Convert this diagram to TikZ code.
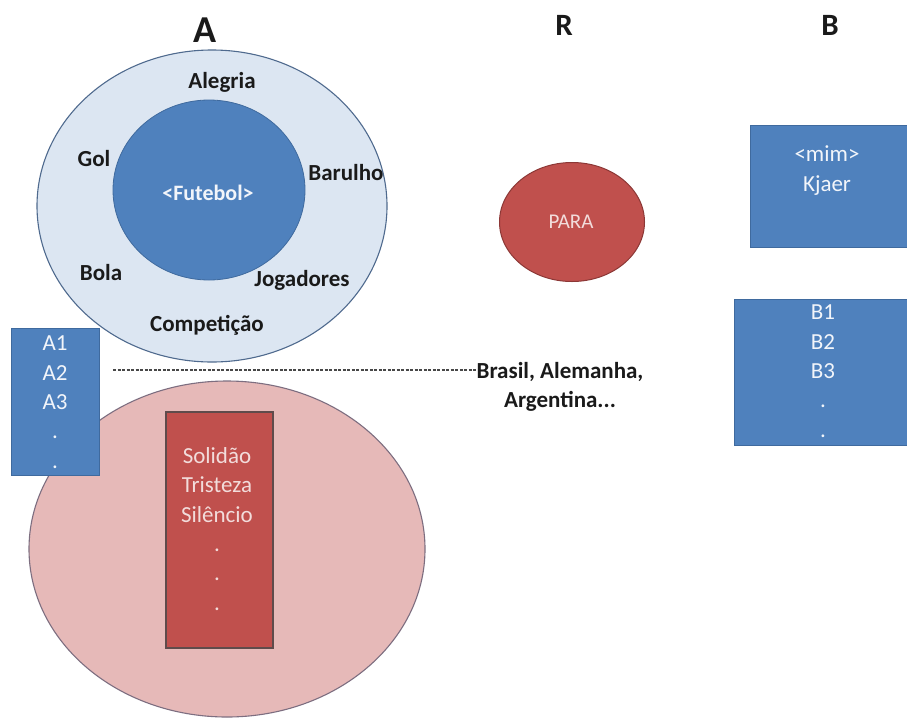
\documentclass[tikz,border=0pt]{standalone}
\usepackage{fontspec}
\setmainfont{Carlito}
\usetikzlibrary{shapes.geometric}
\definecolor{outerfill}{HTML}{DCE6F2}
\definecolor{outerline}{HTML}{4F6A8E}
\definecolor{bluefill}{HTML}{4F81BD}
\definecolor{blueline}{HTML}{3F6A9E}
\definecolor{pinkfill}{HTML}{E6B9B8}
\definecolor{pinkline}{HTML}{7D6E80}
\definecolor{redfill}{HTML}{C0504D}
\definecolor{redline}{HTML}{5F4B4B}
\definecolor{paraline}{HTML}{8C3836}
\definecolor{labelc}{HTML}{1A1A1A}
\definecolor{whitec}{HTML}{F2F5FA}
\definecolor{paratext}{HTML}{F2DCDB}
\begin{document}
\begin{tikzpicture}[x=1pt,y=-1pt,
  lbl/.style={font=\bfseries\fontsize{23}{28.5}\selectfont, text=labelc, inner sep=0pt},
  title/.style={font=\bfseries\fontsize{31}{36}\selectfont, text=labelc, inner sep=0pt},
  wlbl/.style={font=\fontsize{23}{29.3}\selectfont, text=whitec, align=center, inner sep=0pt, anchor=base},
  bluebox/.style={draw=blueline, fill=bluefill, line width=1pt, rectangle, inner sep=0pt},
  oval/.style={ellipse, inner sep=0pt}
]
\clip (0,0) rectangle (907,718);
\fill[white] (0,0) rectangle (907,718);

% titles
\node[title, font=\bfseries\fontsize{38}{40}\selectfont] (tA) at (205,30) {A};
\node[title] (tR) at (564,25) {R};
\node[title] (tB) at (830,25) {B};

% A: outer and inner circles
\node[oval, draw=outerline, fill=outerfill, line width=1.1pt, minimum width=350pt, minimum height=312pt] (outer) at (212,206) {};
\node[oval, draw=blueline, fill=bluefill, line width=0.8pt, minimum width=192pt, minimum height=180pt] (inner) at (209,190) {};
\node[font=\bfseries\fontsize{22}{26}\selectfont, text=whitec, inner sep=0pt] (fut) at (208,193) {<Futebol>};
\node[lbl] (alegria) at (222,82) {Alegria};
\node[lbl] (gol) at (94,159) {Gol};
\node[lbl] (barulho) at (346,173) {Barulho};
\node[lbl] (bola) at (101,273) {Bola};
\node[lbl] (jog) at (302,280) {Jogadores};
\node[lbl] (comp) at (207,325) {Competição};

% lower pink ellipse and red rectangle
\node[oval, draw=pinkline, fill=pinkfill, line width=1.1pt, minimum width=396pt, minimum height=336pt] (pink) at (227,549) {};
\node[rectangle, draw=redline, fill=redfill, line width=1.1pt, minimum width=107pt, minimum height=236pt, inner sep=0pt] (redbox) at (219.5,530) {};
\node[wlbl, text=paratext] (sol) at (217,610) {Solidão\\Tristeza\\Silêncio\\.\\.\\.};

% A1 box
\node[bluebox, minimum width=88pt, minimum height=147pt] (abox) at (55,401.5) {};
\node[wlbl] (alist) at (55,468) {A1\\A2\\A3\\.\\.};

% dashed connector
\node[lbl, align=center, anchor=base] (paises) at (560,407) {Brasil, Alemanha,\\Argentina...};
\coordinate (dashL) at (113,370);
\draw[dashed, dash pattern=on 3pt off 1.5pt, line width=1.2pt, draw=labelc!80] (dashL) -- (dashL -| paises.west);

% R: PARA
\node[oval, draw=paraline, fill=redfill, line width=1pt, minimum width=145pt, minimum height=119pt] (para) at (572,222) {};
\node[font=\fontsize{21}{24}\selectfont, text=paratext, inner sep=0pt] (paratxt) at (571,222) {PARA};

% B boxes
\node[bluebox, minimum width=170pt, minimum height=122pt] (mimbox) at (835,186) {};
\node[wlbl] (mim) at (827,191) {<mim>\\Kjaer};
\node[bluebox, minimum width=185pt, minimum height=146pt] (bbox) at (826.5,372) {};
\node[wlbl] (blist) at (823,437) {B1\\B2\\B3\\.\\.};
\end{tikzpicture}
\end{document}
